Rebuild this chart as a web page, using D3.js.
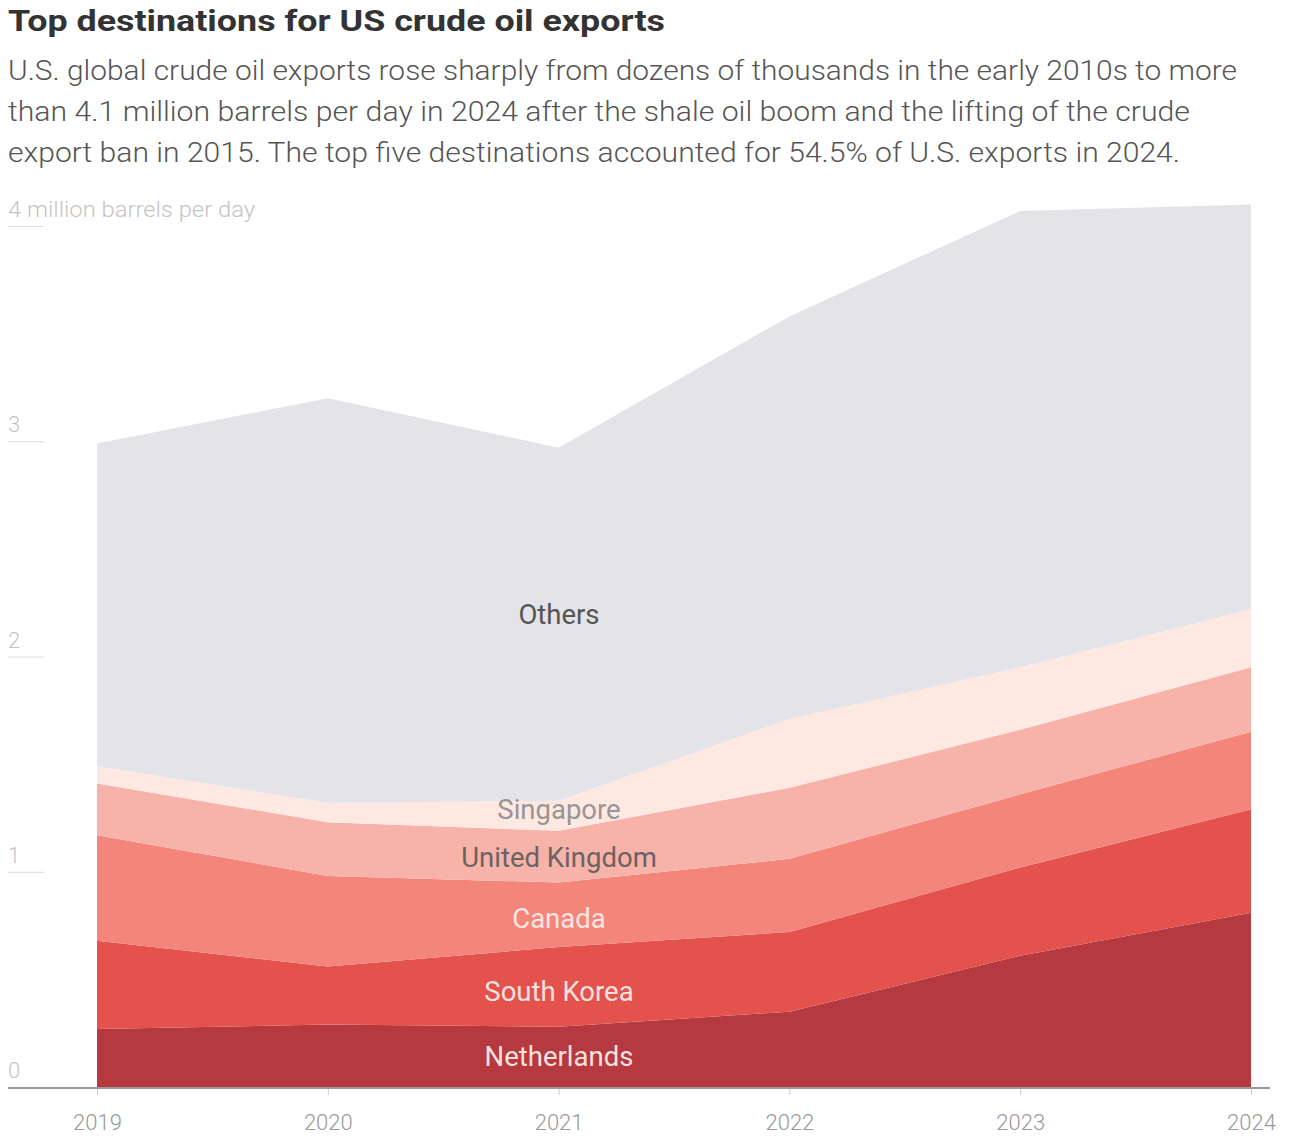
<!DOCTYPE html>
<html>
<head>
<meta charset="utf-8">
<script src="https://cdn.jsdelivr.net/npm/d3@7"></script>
<style>
  body { margin: 0; background: #fff; }
  svg { display: block; font-family: Roboto, "Open Sans", sans-serif; }
</style>
</head>
<body>
<svg id="chart" width="1308" height="1144"></svg>
<script>
// chart data, million barrels per day
const years = [2019, 2020, 2021, 2022, 2023, 2024];
const netherlands = [0.27, 0.29, 0.28, 0.35, 0.61, 0.81];
const southKorea = [0.41, 0.27, 0.37, 0.37, 0.41, 0.48];
const canada = [0.49, 0.42, 0.30, 0.34, 0.34, 0.36];
const unitedKingdom = [0.24, 0.25, 0.24, 0.33, 0.30, 0.30];
const singapore = [0.08, 0.09, 0.14, 0.32, 0.29, 0.27];
const others = [1.50, 1.88, 1.64, 1.87, 2.12, 1.88];

const seriesNames = ["Netherlands", "South Korea", "Canada", "United Kingdom", "Singapore", "Others"];
const seriesValues = [netherlands, southKorea, canada, unitedKingdom, singapore, others];
const yTicks = [0, 1, 2, 3, 4];

const title = "Top destinations for US crude oil exports";
const subtitle = [
  "U.S. global crude oil exports rose sharply from dozens of thousands in the early 2010s to more",
  "than 4.1 million barrels per day in 2024 after the shale oil boom and the lifting of the crude",
  "export ban in 2015. The top five destinations accounted for 54.5% of U.S. exports in 2024."
];

// styles
const colors = ["#b5393f", "#e4524e", "#f4857a", "#f7b3aa", "#fde8e2", "#e4e3e7"];
const labelColors = ["#fbe2de", "#fbe2de", "#fde6e1", "#6b6262", "#9a9494", "#555"];

const svg = d3.select("#chart");

// build table for d3.stack
const table = years.map((yr, i) => {
  const row = { year: yr };
  seriesNames.forEach((name, j) => row[name] = seriesValues[j][i]);
  return row;
});

const stacked = d3.stack().keys(seriesNames)(table);

const x = d3.scaleLinear().domain([2019, 2024]).range([97, 1251]);
const y = d3.scaleLinear().domain([0, 4]).range([1087, 226]);

// title + subtitle
svg.append("text")
  .attr("x", 8).attr("y", 31)
  .attr("font-size", 30).attr("font-weight", 700)
  .attr("fill", "#333")
  .attr("textLength", 657).attr("lengthAdjust", "spacingAndGlyphs")
  .text(title);

const subWidths = [1229, 1182, 1172];
svg.selectAll(".sub")
  .data(subtitle)
  .enter()
  .append("text")
  .attr("class", "sub")
  .attr("x", 8)
  .attr("y", (d, i) => 80 + i * 41)
  .attr("font-size", 28)
  .attr("font-weight", 300)
  .attr("fill", "#555")
  .attr("textLength", (d, i) => subWidths[i])
  .attr("lengthAdjust", "spacingAndGlyphs")
  .text(d => d);

// areas
const area = d3.area()
  .x(d => x(d.data.year))
  .y0(d => y(d[0]))
  .y1(d => y(d[1]))
  .curve(d3.curveLinear);

svg.append("g")
  .selectAll("path")
  .data(stacked)
  .enter()
  .append("path")
  .attr("d", area)
  .attr("fill", (d, i) => colors[i]);

// y axis: labels with short underline
const yAxis = svg.append("g");
yAxis.selectAll("text")
  .data(yTicks)
  .enter()
  .append("text")
  .attr("x", 8)
  .attr("y", d => y(d) - 9)
  .attr("font-size", 22)
  .attr("font-weight", 300)
  .attr("fill", "#c4c4c4")
  .text(d => d === 4 ? "4 million barrels per day" : d)
  .filter(d => d === 4)
  .attr("textLength", 247)
  .attr("lengthAdjust", "spacingAndGlyphs");
yAxis.selectAll("line")
  .data(yTicks.filter(d => d > 0))
  .enter()
  .append("line")
  .attr("x1", 8).attr("x2", 44)
  .attr("y1", d => y(d) + 0.5).attr("y2", d => y(d) + 0.5)
  .attr("stroke", "#ddd");

// x axis
const xAxis = svg.append("g")
  .attr("transform", `translate(0,${y(0)})`)
  .call(d3.axisBottom(x).tickValues(years).tickFormat(d3.format("d")).tickSize(8).tickPadding(19))
  .call(g => g.select(".domain").remove());
xAxis.selectAll(".tick line").attr("stroke", "#ccc");
xAxis.selectAll(".tick text")
  .attr("font-size", 22)
  .attr("font-weight", 300)
  .attr("font-family", "Roboto, sans-serif")
  .attr("fill", "#999");

svg.append("line")
  .attr("x1", 8).attr("x2", 1270)
  .attr("y1", y(0) + 1).attr("y2", y(0) + 1)
  .attr("stroke", "#999")
  .attr("stroke-width", 2);

// band labels, placed at the middle of each band over 2021
const labelYear = 2021;
const labelIdx = years.indexOf(labelYear);
const labelNudge = [0, 4, 4, 1, -6, -10];
svg.append("g")
  .selectAll("text")
  .data(stacked)
  .enter()
  .append("text")
  .attr("x", 559)
  .attr("y", (d, i) => y((d[labelIdx][0] + d[labelIdx][1]) / 2) + labelNudge[i])
  .attr("dy", "0.35em")
  .attr("text-anchor", "middle")
  .attr("font-size", 27.5)
  .attr("fill", (d, i) => labelColors[i])
  .text(d => d.key);
</script>
</body>
</html>
